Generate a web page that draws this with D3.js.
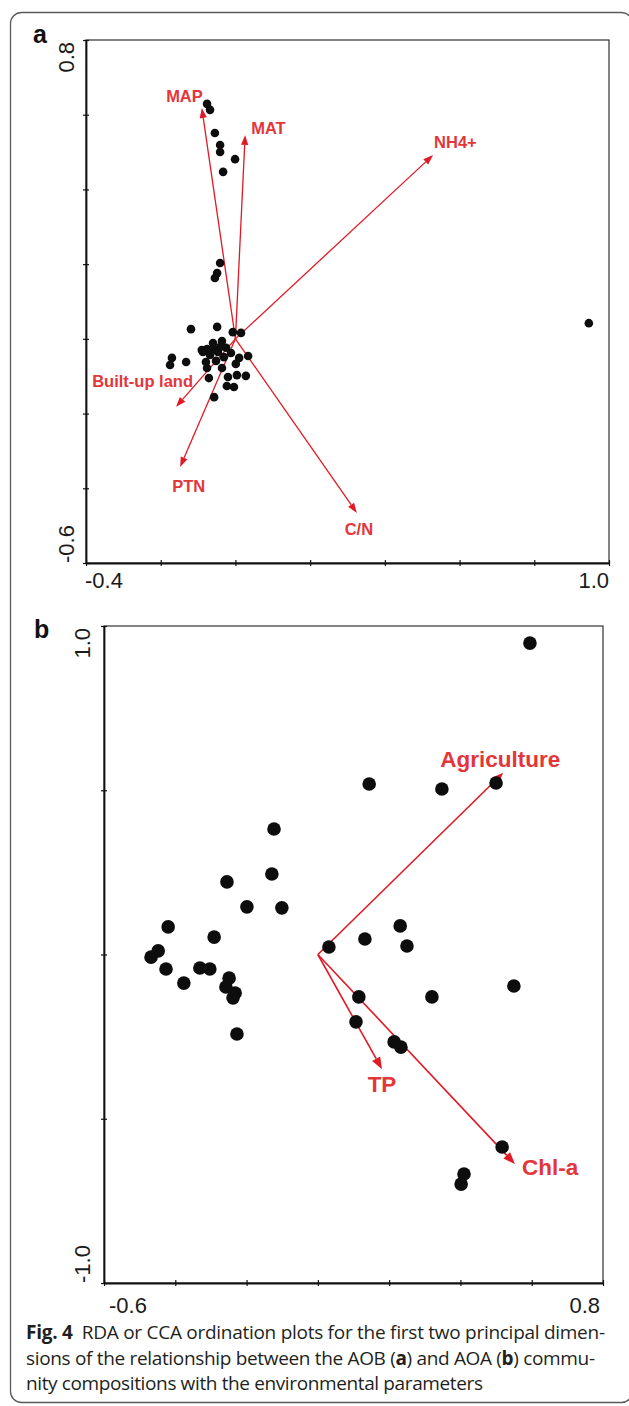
<html>

<head>
    <style>
        body {
            margin: 0;
            background: white;
        }

        svg {
            display: block;
        }

        .envLabel {
            font-family: Arial, "Liberation Sans", sans-serif;
            font-weight: bold;
            fill: #e3363b;
        }

        .endLabel {
            font-family: Arial, "Liberation Sans", sans-serif;
            font-size: 22px;
            fill: #1a1a1a;
        }

        .panelLetter {
            font-family: Arial, "Liberation Sans", sans-serif;
            font-weight: bold;
            font-size: 25px;
            fill: #111;
        }

        .caption {
            font-family: "Open Sans", "Noto Sans", sans-serif;
            font-size: 19px;
            fill: #231f20;
        }
    </style>
    <script src="https://cdn.jsdelivr.net/npm/d3@7"></script>
</head>

<body>
    <svg id="Fig" width="629" height="1406"></svg>
</body>
<script>
    // ---- panel a: AOB, site scores ----
    let aSiteX = [-0.076, -0.068, -0.055, -0.041, -0.041, -0.001, -0.033,
        -0.041, -0.049, -0.055,
        -0.119, -0.049, -0.007, 0.015, -0.036, -0.076, -0.060, -0.047, -0.068, -0.012,
        -0.031, 0.010, 0.034, -0.170, -0.175, -0.132, -0.079, -0.076, -0.036, 0.001,
        -0.071, -0.020, 0.004, 0.028, -0.023, -0.004, -0.057, -0.041, -0.090,
        -0.060, -0.087, -0.025, -0.052,
        0.946]
    let aSiteY = [0.629, 0.613, 0.551, 0.519, 0.500, 0.481, 0.447,
        0.203, 0.176, 0.163,
        0.026, 0.032, 0.018, 0.016, -0.006, -0.027, -0.027, -0.035, -0.043, -0.038,
        -0.049, -0.051, -0.046, -0.051, -0.070, -0.062, -0.062, -0.078, -0.078, -0.067,
        -0.105, -0.102, -0.097, -0.099, -0.126, -0.129, -0.156, -0.022, -0.030,
        -0.011, -0.035, -0.024, -0.059,
        0.042]

    // environmental vectors, panel a
    let aEnvNames = ["MAP", "MAT", "NH4+", "C/N", "PTN", "Built-up land"]
    let aEnvX = [-0.090, 0.026, 0.529, 0.325, -0.148, -0.159]
    let aEnvY = [0.618, 0.546, 0.492, -0.466, -0.343, -0.182]

    let aXTicks = [-0.4, -0.2, 0.0, 0.2, 0.4, 0.6, 0.8, 1.0]
    let aYTicks = [-0.6, -0.4, -0.2, 0.0, 0.2, 0.4, 0.6, 0.8]
    let aXTickLabels = ["-0.4", "1.0"]
    let aYTickLabels = ["-0.6", "0.8"]

    // ---- panel b: AOA, site scores ----
    let bSiteX = [0.595, 0.144, 0.348, 0.500, -0.123, -0.129, -0.255, -0.199, -0.101,
        -0.420, -0.291, -0.448, -0.468, -0.426, -0.331, -0.303, -0.376, -0.249, -0.258,
        -0.232, -0.238, -0.227, 0.031, 0.132, 0.231, 0.250, 0.115, 0.320, 0.550,
        0.107, 0.214, 0.233, 0.517, 0.410, 0.402]
    let bSiteY = [0.948, 0.519, 0.504, 0.522, 0.382, 0.245, 0.221, 0.145, 0.142,
        0.084, 0.053, 0.011, -0.008, -0.044, -0.041, -0.044, -0.087, -0.072, -0.099,
        -0.117, -0.132, -0.242, 0.023, 0.047, 0.087, 0.026, -0.129, -0.129, -0.096,
        -0.205, -0.266, -0.282, -0.586, -0.668, -0.699]

    let bEnvNames = ["Agriculture", "TP", "Chl-a"]
    let bEnvX = [0.520, 0.180, 0.553]
    let bEnvY = [0.553, -0.349, -0.638]

    let bXTicks = [-0.6, -0.4, -0.2, 0.0, 0.2, 0.4, 0.6, 0.8]
    let bYTicks = [-1.0, -0.5, 0.0, 0.5, 1.0]
    let bXTickLabels = ["-0.6", "0.8"]
    let bYTickLabels = ["-1.0", "1.0"]

    let captionLines = [
        [["Fig. 4", true], ["  RDA or CCA ordination plots for the first two principal dimen-", false]],
        [["sions of the relationship between the AOB (", false], ["a", true], [") and AOA (", false], ["b", true], [") commu-", false]],
        [["nity compositions with the environmental parameters", false]]
    ]

    let svg = d3.select('#Fig')

    // outer rounded frame
    svg.append("rect")
        .attr("x", 10.5).attr("y", 12.5)
        .attr("width", 622).attr("height", 1390)
        .attr("rx", 11)
        .attr("fill", "none")
        .attr("stroke", "#5a5a5a")
        .attr("stroke-width", 1.3)

    function getPanelConfig(box, xDomain, yDomain) {
        let xScale = d3.scaleLinear().domain(xDomain).range([box.left, box.right])
        let yScale = d3.scaleLinear().domain(yDomain).range([box.bottom, box.top])
        let container = svg.append("g")
        return { box, xScale, yScale, container }
    }

    function drawAxes(config, xTicks, yTicks, xLabels, yLabels, axisStyle) {
        let { box, xScale, yScale, container } = config
        // thin top/right frame
        container.append("rect")
            .attr("x", box.left).attr("y", box.top)
            .attr("width", box.right - box.left).attr("height", box.bottom - box.top)
            .attr("fill", "none").attr("stroke", "#333").attr("stroke-width", 1.2)

        let axisX = d3.axisBottom(xScale).tickValues(xTicks).tickFormat("").tickSizeInner(3).tickSizeOuter(0)
        let gx = container.append("g")
            .attr("transform", `translate(0,${box.bottom})`)
            .call(axisX)
        gx.selectAll(".tick line").attr("y1", -3).attr("stroke", "#111").attr("stroke-width", 1.2)
        gx.select(".domain").attr("stroke", "#111").attr("stroke-width", 1.8)

        let axisY = d3.axisLeft(yScale).tickValues(yTicks).tickFormat("").tickSizeInner(3).tickSizeOuter(0)
        let gy = container.append("g")
            .attr("transform", `translate(${box.left},0)`)
            .call(axisY)
        gy.selectAll(".tick line").attr("x1", 3).attr("stroke", "#111").attr("stroke-width", 1.2)
        gy.select(".domain").attr("stroke", "#111").attr("stroke-width", 1.8)

        // only the two end values carry labels
        let xVals = [xScale.domain()[0], xScale.domain()[1]]
        container.append("text").attr("class", "endLabel")
            .attr("x", xScale(xVals[0]) + axisStyle.xFirstShift).attr("y", box.bottom + axisStyle.xLabelDy)
            .attr("text-anchor", "start").text(xLabels[0])
        container.append("text").attr("class", "endLabel")
            .attr("x", xScale(xVals[1]) + axisStyle.xLastShift).attr("y", box.bottom + axisStyle.xLabelDy)
            .attr("text-anchor", "end").text(xLabels[1])

        let yVals = [yScale.domain()[0], yScale.domain()[1]]
        container.append("text").attr("class", "endLabel")
            .attr("transform", `translate(${box.left - axisStyle.yLabelDx},${yScale(yVals[0])}) rotate(-90)`)
            .attr("text-anchor", "start").text(yLabels[0])
        container.append("text").attr("class", "endLabel")
            .attr("transform", `translate(${box.left - axisStyle.yLabelDx},${yScale(yVals[1]) + 2}) rotate(-90)`)
            .attr("text-anchor", "end").text(yLabels[1])
    }

    function drawSites(config, xs, ys, radius) {
        let { xScale, yScale, container } = config
        let sites = xs.map((x, i) => ({ x: x, y: ys[i] }))
        container.append("g").selectAll("circle").data(sites)
            .enter().append("circle")
            .attr("cx", d => xScale(d.x))
            .attr("cy", d => yScale(d.y))
            .attr("r", radius)
            .attr("fill", "#0d0d0d")
    }

    function drawArrows(config, names, xs, ys, style) {
        let { xScale, yScale, container } = config
        let ox = xScale(0), oy = yScale(0)
        let g = container.append("g")
        names.forEach((name, i) => {
            let tx = xScale(xs[i]), ty = yScale(ys[i])
            let len = Math.hypot(tx - ox, ty - oy)
            let ux = (tx - ox) / len, uy = (ty - oy) / len
            let bx = tx - ux * style.headLen, by = ty - uy * style.headLen
            g.append("line")
                .attr("x1", ox).attr("y1", oy).attr("x2", bx).attr("y2", by)
                .attr("stroke", "#e01a24").attr("stroke-width", style.width)
            g.append("polygon")
                .attr("points", [
                    [tx, ty],
                    [bx - uy * style.headHalf, by + ux * style.headHalf],
                    [bx + uy * style.headHalf, by - ux * style.headHalf]
                ].map(p => p.join(",")).join(" "))
                .attr("fill", "#e01a24")
            let pos = style.labels[name]
            g.append("text").attr("class", "envLabel")
                .attr("x", tx + pos.dx).attr("y", ty + pos.dy)
                .attr("text-anchor", pos.anchor)
                .style("font-size", style.fontSize + "px")
                .text(name)
        })
    }

    // panel a
    let configA = getPanelConfig({ left: 86, right: 609, top: 40, bottom: 563 }, [-0.4, 1.0], [-0.6, 0.8])
    drawAxes(configA, aXTicks, aYTicks, aXTickLabels, aYTickLabels,
        { xLabelDy: 25, xFirstShift: -1, xLastShift: 0, yLabelDx: 12 })
    drawArrows(configA, aEnvNames, aEnvX, aEnvY, {
        width: 1.3, headLen: 10, headHalf: 3.6, fontSize: 16.5,
        labels: {
            "MAP": { dx: 1, dy: -6, anchor: "end" },
            "MAT": { dx: 6, dy: -1, anchor: "start" },
            "NH4+": { dx: 1, dy: -7, anchor: "start" },
            "C/N": { dx: 2, dy: 22, anchor: "middle" },
            "PTN": { dx: -8, dy: 25, anchor: "start" },
            "Built-up land": { dx: 17, dy: -20, anchor: "end" }
        }
    })
    drawSites(configA, aSiteX, aSiteY, 4.3)
    svg.append("text").attr("class", "panelLetter").attr("x", 33).attr("y", 43).text("a")

    // panel b
    let configB = getPanelConfig({ left: 104, right: 603, top: 626, bottom: 1283 }, [-0.6, 0.8], [-1.0, 1.0])
    drawAxes(configB, bXTicks, bYTicks, bXTickLabels, bYTickLabels,
        { xLabelDy: 30, xFirstShift: 5, xLastShift: -3, yLabelDx: 14 })
    drawArrows(configB, bEnvNames, bEnvX, bEnvY, {
        width: 1.6, headLen: 12, headHalf: 4.6, fontSize: 22.5,
        labels: {
            "Agriculture": { dx: -63, dy: -6, anchor: "start" },
            "TP": { dx: 0, dy: 23, anchor: "middle" },
            "Chl-a": { dx: 7, dy: 11, anchor: "start" }
        }
    })
    drawSites(configB, bSiteX, bSiteY, 6.8)
    svg.append("text").attr("class", "panelLetter").attr("x", 34).attr("y", 638).text("b")

    // caption
    let captionWidths = [579, 569, 457]
    let caption = svg.append("g")
    captionLines.forEach((parts, i) => {
        let t = caption.append("text").attr("class", "caption")
            .attr("x", 26).attr("y", 1339 + i * 25.5)
            .attr("textLength", captionWidths[i])
            .attr("lengthAdjust", "spacing")
            .attr("xml:space", "preserve")
        parts.forEach(p => {
            t.append("tspan")
                .style("font-weight", p[1] ? "bold" : "normal")
                .text(p[0])
        })
    })
</script>
</html>
